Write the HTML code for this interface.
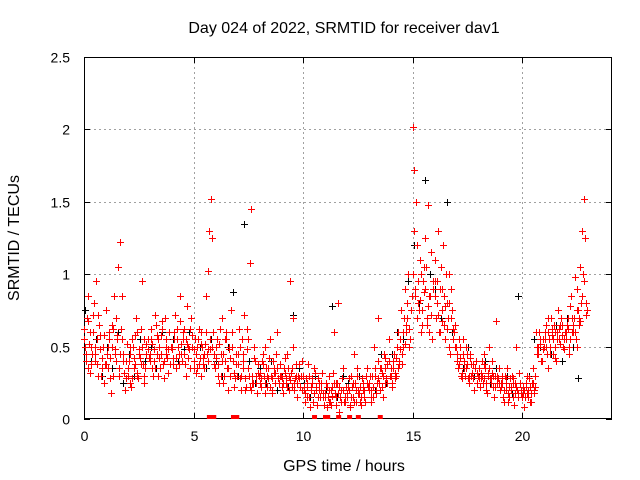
<!DOCTYPE html>
<html><head><meta charset="utf-8"><style>
html,body{margin:0;padding:0;background:#fff;}
svg{display:block;font-family:"Liberation Sans",sans-serif;}
</style></head><body>
<svg id="chart" width="640" height="480" viewBox="0 0 640 480" xmlns="http://www.w3.org/2000/svg">
<text x="344" y="33" font-size="16" text-anchor="middle">Day 024 of 2022, SRMTID for receiver dav1</text>
<text x="344" y="471" font-size="16" text-anchor="middle">GPS time / hours</text>
<text x="19" y="238" font-size="16" text-anchor="middle" transform="rotate(-90 19 238)">SRMTID / TECUs</text>
<g id="grid"></g>
<g id="axes"></g>
<g id="marks"></g>
</svg>
<script>
const xTicks=[0,5,10,15,20];
const yTicks=[0,0.5,1,1.5,2,2.5];
const yTickLabels=["0","0.5","1","1.5","2","2.5"];
const hours=[0,1,2,3,4,5,6,7,8,9,10,11,12,13,14,15,16,17,18,19,20,21,22];
const slotsA=[0,0.08,0.16,0.24,0.32,0.4,0.48,0.56,0.64,0.72,0.8,0.9];
const slotsB=[0.04,0.12,0.2,0.28,0.36,0.44,0.52,0.6,0.68,0.76,0.85,0.95];
const slotsC=[0.02,0.1,0.18,0.26,0.34,0.42,0.5,0.58,0.66,0.74,0.83,0.93];
const slotsK=[0.04,0.3,0.55,0.8];
const redA=[
[0.62,0.45,0.85,0.52,0.38,0.72,0.5,0.95,0.3,0.58,0.42,0.25],
[0.75,0.35,0.55,0.18,0.62,0.45,0.7,1.05,1.22,0.85,0.4,0.28],
[0.3,0.45,0.22,0.5,0.38,0.6,0.28,0.42,0.95,0.55,0.35,0.48],
[0.4,0.62,0.3,0.72,0.45,0.55,0.35,0.68,0.28,0.5,0.42,0.6],
[0.5,0.38,0.72,0.55,0.45,0.85,0.4,0.62,0.3,0.52,0.48,0.7],
[0.4,0.55,0.35,0.62,0.3,0.5,0.45,0.85,1.02,1.3,1.52,0.6],
[0.35,0.55,0.25,0.45,0.7,0.3,0.6,0.2,0.5,0.75,0.4,0.28],
[0.3,0.62,0.2,0.45,0.72,0.22,0.55,1.08,1.45,0.25,0.4,0.18],
[0.3,0.22,0.45,0.18,0.35,0.28,0.55,0.2,0.4,0.32,0.6,0.25],
[0.3,0.18,0.42,0.25,0.35,0.95,0.22,0.5,0.28,0.15,0.38,0.3],
[0.3,0.12,0.22,0.38,0.08,0.28,0.18,0.32,0.1,0.25,0.2,0.15],
[0.18,0.08,0.3,0.12,0.22,0.6,0.15,0.25,0.05,0.2,0.35,0.12],
[0.15,0.28,0.08,0.22,0.45,0.12,0.3,0.18,0.1,0.25,0.2,0.35],
[0.2,0.12,0.3,0.5,0.18,0.7,0.25,0.35,0.15,0.42,0.28,0.55],
[0.35,0.22,0.45,0.3,0.6,0.4,0.75,0.5,0.9,0.65,1.0,0.55],
[2.02,1.72,1.5,0.8,1.1,0.6,0.95,1.25,0.7,1.48,0.85,0.55],
[1.1,0.7,1.3,0.6,0.9,1.2,0.55,0.8,1.0,0.45,0.75,0.6],
[0.5,0.35,0.42,0.28,0.55,0.3,0.38,0.25,0.45,0.32,0.2,0.4],
[0.3,0.22,0.4,0.28,0.35,0.18,0.5,0.25,0.32,0.15,0.68,0.28],
[0.2,0.3,0.12,0.25,0.35,0.15,0.22,0.28,0.1,0.5,0.18,0.25],
[0.15,0.08,0.22,0.18,0.28,0.12,0.35,0.2,0.6,0.45,0.55,0.4],
[0.5,0.65,0.35,0.55,0.7,0.45,0.6,0.4,0.75,0.52,0.65,0.48],
[0.55,0.7,0.45,0.85,0.6,0.98,0.5,0.75,1.05,1.3,1.52,0.72]];
const redB=[
[0.5,0.7,0.35,0.6,0.45,0.8,0.4,0.55,0.65,0.3,0.5,0.38],
[0.45,0.6,0.28,0.5,0.85,0.4,0.55,0.3,0.62,0.45,0.2,0.52],
[0.4,0.25,0.55,0.35,0.7,0.3,0.48,0.62,0.38,0.25,0.52,0.42],
[0.55,0.35,0.48,0.65,0.3,0.42,0.58,0.38,0.7,0.45,0.32,0.5],
[0.42,0.6,0.35,0.5,0.68,0.45,0.55,0.38,0.78,0.5,0.35,0.58],
[0.48,0.32,0.55,0.42,0.6,0.38,0.52,0.45,0.4,0.48,1.25,0.45],
[0.5,0.3,0.62,0.4,0.25,0.55,0.35,0.48,0.3,0.6,0.22,0.45],
[0.45,0.28,0.55,0.35,0.2,0.62,0.3,0.2,0.25,0.5,0.3,0.38],
[0.25,0.4,0.3,0.5,0.22,0.42,0.3,0.18,0.35,0.45,0.28,0.38],
[0.22,0.35,0.28,0.45,0.2,0.32,0.7,0.25,0.38,0.3,0.22,0.4],
[0.2,0.28,0.15,0.3,0.22,0.12,0.35,0.2,0.28,0.15,0.32,0.1],
[0.25,0.15,0.2,0.1,0.32,0.18,0.25,0.8,0.15,0.28,0.12,0.22],
[0.22,0.1,0.3,0.15,0.25,0.35,0.2,0.12,0.28,0.15,0.3,0.22],
[0.3,0.2,0.15,0.35,0.25,0.4,0.2,0.32,0.45,0.25,0.38,0.3],
[0.25,0.4,0.32,0.5,0.38,0.55,0.45,0.7,0.6,0.8,0.5,0.85],
[1.3,0.9,1.2,0.75,1.0,0.65,0.88,1.05,0.78,0.6,1.15,0.9],
[0.85,0.95,0.6,1.05,0.75,0.65,1.0,0.7,0.5,0.9,0.62,0.5],
[0.4,0.55,0.3,0.45,0.35,0.5,0.28,0.42,0.3,0.38,0.35,0.25],
[0.35,0.28,0.25,0.45,0.2,0.32,0.28,0.4,0.22,0.3,0.25,0.35],
[0.25,0.15,0.3,0.2,0.12,0.28,0.3,0.15,0.25,0.2,0.32,0.18],
[0.22,0.15,0.3,0.2,0.12,0.25,0.18,0.3,0.5,0.6,0.4,0.55],
[0.6,0.45,0.7,0.5,0.58,0.65,0.42,0.55,0.62,0.7,0.5,0.6],
[0.65,0.5,0.78,0.6,0.7,0.55,0.9,0.65,0.8,1.0,1.25,0.75]];
const redC=[
[0.55,0.4,0.68,0.32,0.5,0.6,0.45,0.38,0.72,0.48,0.35,0.58],
[0.38,0.5,0.42,0.65,0.3,0.48,0.58,0.35,0.45,0.55,0.32,0.4],
[0.35,0.5,0.28,0.42,0.58,0.32,0.45,0.38,0.5,0.3,0.45,0.55],
[0.45,0.52,0.4,0.35,0.58,0.5,0.45,0.62,0.4,0.55,0.48,0.38],
[0.48,0.55,0.42,0.62,0.38,0.52,0.6,0.45,0.55,0.42,0.62,0.5],
[0.35,0.45,0.5,0.38,0.52,0.42,0.35,0.6,0.48,0.55,0.5,0.38],
[0.42,0.38,0.52,0.3,0.45,0.4,0.55,0.35,0.42,0.5,0.32,0.38],
[0.38,0.5,0.3,0.4,0.28,0.48,0.35,0.22,0.3,0.42,0.25,0.32],
[0.32,0.28,0.38,0.25,0.3,0.35,0.22,0.28,0.32,0.25,0.35,0.3],
[0.28,0.25,0.32,0.22,0.3,0.27,0.35,0.2,0.3,0.25,0.28,0.2],
[0.22,0.18,0.25,0.15,0.2,0.25,0.18,0.22,0.15,0.2,0.25,0.18],
[0.15,0.22,0.12,0.2,0.16,0.25,0.1,0.18,0.22,0.12,0.2,0.15],
[0.18,0.2,0.15,0.25,0.12,0.2,0.18,0.22,0.15,0.2,0.12,0.25],
[0.25,0.15,0.22,0.3,0.2,0.28,0.35,0.22,0.3,0.35,0.25,0.4],
[0.3,0.35,0.28,0.42,0.35,0.48,0.38,0.6,0.52,0.7,0.62,0.75],
[1.0,0.85,0.7,0.95,0.82,0.75,1.05,0.9,0.65,0.85,0.72,0.95],
[0.95,0.8,0.72,0.9,0.68,0.85,0.78,0.62,0.8,0.7,0.55,0.65],
[0.45,0.38,0.5,0.32,0.4,0.35,0.45,0.3,0.38,0.28,0.35,0.32],
[0.28,0.32,0.3,0.38,0.25,0.3,0.35,0.28,0.3,0.22,0.3,0.25],
[0.22,0.25,0.2,0.28,0.18,0.22,0.2,0.25,0.18,0.22,0.15,0.2],
[0.18,0.2,0.25,0.15,0.22,0.18,0.25,0.22,0.45,0.5,0.52,0.48],
[0.55,0.5,0.6,0.45,0.62,0.55,0.5,0.6,0.55,0.65,0.58,0.55],
[0.6,0.62,0.55,0.7,0.65,0.6,0.75,0.7,0.68,0.85,0.95,0.8]];
const black=[
[0.75,0.4,0.55,0.3],[0.5,0.35,0.6,0.25],[0.45,0.3,0.55,0.4],[0.5,0.35,0.6,0.42],
[0.55,0.4,0.48,0.6],[0.4,0.5,0.35,0.55],[0.4,0.3,0.5,0.88],[0.3,1.35,0.4,0.25],
[0.35,0.25,0.4,0.2],[0.3,0.22,0.72,0.35],[0.25,0.15,0.3,0.2],[0.2,0.78,0.15,0.3],
[0.25,0.15,0.3,0.2],[0.3,0.2,0.45,0.25],[0.45,0.6,0.55,0.95],[1.2,0.8,1.65,1.0],
[0.9,0.7,1.5,0.6],[0.45,0.35,0.5,0.3],[0.3,0.4,0.25,0.35],[0.22,0.3,0.18,0.85],
[0.2,0.3,0.55,0.5],[0.55,0.45,0.65,0.4],[0.7,0.5,0.28,0.95]];
const zeroT=[5.7,5.9,6.8,6.95,10.5,11.0,11.1,11.6,12.1,12.5,13.5];

const L=84,R=612,T=57,B=419,XMAX=24.1,YMAX=2.5;
const xs=v=>L+v/XMAX*(R-L);
const ys=v=>B-v/YMAX*(B-T);
const NS="http://www.w3.org/2000/svg";
function mk(tag,attrs,parent){const e=document.createElementNS(NS,tag);for(const k in attrs)e.setAttribute(k,attrs[k]);parent.appendChild(e);return e;}
const grid=document.getElementById('grid'),axes=document.getElementById('axes'),marks=document.getElementById('marks');
xTicks.forEach(t=>{
  const x=Math.round(xs(t))+0.5;
  if(t>0){const g=mk('line',{x1:x,y1:T,x2:x,y2:B,stroke:'#a0a0a0','stroke-dasharray':'2,3','stroke-width':1},grid);
  }
  mk('line',{x1:x,y1:B,x2:x,y2:B-6,stroke:'#000'},axes);
  mk('line',{x1:x,y1:T,x2:x,y2:T+6,stroke:'#000'},axes);
  const lb=mk('text',{x:x,y:B+22,'font-size':14,'text-anchor':'middle'},axes);lb.textContent=t;
  
});
yTicks.forEach((t,i)=>{
  const y=Math.round(ys(t))+0.5;
  if(t>0&&t<YMAX){const g=mk('line',{x1:L,y1:y,x2:R,y2:y,stroke:'#a0a0a0','stroke-dasharray':'2,3','stroke-width':1},grid);
  }
  mk('line',{x1:L,y1:y,x2:L+6,y2:y,stroke:'#000'},axes);
  mk('line',{x1:R,y1:y,x2:R-6,y2:y,stroke:'#000'},axes);
  const lb=mk('text',{x:70,y:y+5,'font-size':14,'text-anchor':'end'},axes);lb.textContent=yTickLabels[i];
  
});
const fr=mk('rect',{x:L+0.5,y:T+0.5,width:R-L-1,height:B-T-1,fill:'none',stroke:'#000'},axes);

function plus(t,v,col){
  const x=Math.round(xs(t))+0.5,y=Math.round(ys(v))+0.5;
  const p=mk('path',{d:`M${x-3.5} ${y}H${x+3.5}M${x} ${y-3.5}V${y+3.5}`,stroke:col,'stroke-width':1,fill:'none'},marks);
  
  
}
hours.forEach((h,i)=>black[i].forEach((v,j)=>plus(h+slotsK[j],v,'#000')));
hours.forEach((h,i)=>redA[i].forEach((v,j)=>plus(h+slotsA[j],v,'#f00')));
hours.forEach((h,i)=>redB[i].forEach((v,j)=>plus(h+slotsB[j],v,'#f00')));
hours.forEach((h,i)=>redC[i].forEach((v,j)=>plus(h+slotsC[j],v,'#f00')));
zeroT.forEach(t=>{
  const r=mk('rect',{x:xs(t)-2,y:B-4,width:5,height:4,fill:'#f00'},marks);
  
  
});
</script>
</body></html>
